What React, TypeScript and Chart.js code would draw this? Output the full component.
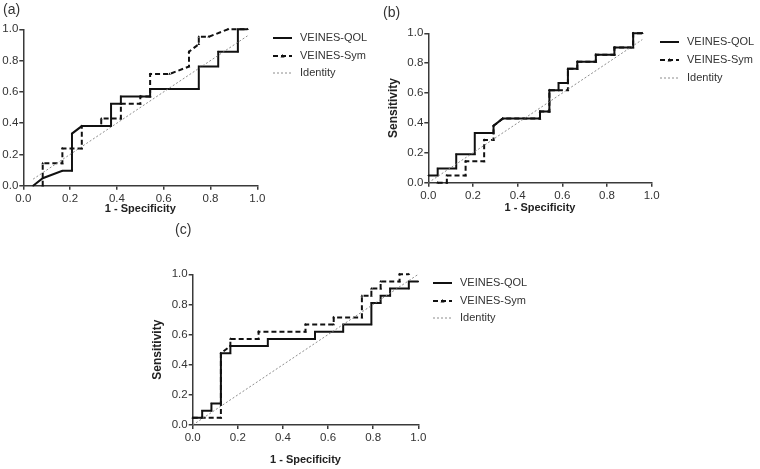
import React, { useEffect, useRef } from "react";
import { Chart, registerables } from "chart.js";
Chart.register(...registerables);

const FONT = '"Liberation Sans", Arial, Helvetica, sans-serif';
Chart.defaults.font.family = FONT;

const tickValues = [0, 0.2, 0.4, 0.6, 0.8, 1.0];
const seriesNames = ["VEINES-QOL", "VEINES-Sym", "Identity"];
const xTitle = "1 - Specificity";
const yTitle = "Sensitivity";

// Panel (a)
const aQolX = [0.042, 0.083, 0.167, 0.208, 0.208, 0.25, 0.375, 0.375, 0.417, 0.417, 0.542, 0.542, 0.75, 0.75, 0.833, 0.833, 0.917, 0.917, 0.958];
const aQolY = [0, 0.048, 0.095, 0.095, 0.333, 0.381, 0.381, 0.524, 0.524, 0.571, 0.571, 0.619, 0.619, 0.762, 0.762, 0.857, 0.857, 1, 1];
const aSymX = [0.083, 0.083, 0.167, 0.167, 0.25, 0.25, 0.333, 0.333, 0.417, 0.417, 0.5, 0.5, 0.542, 0.542, 0.625, 0.708, 0.708, 0.75, 0.75, 0.792, 0.875, 0.958];
const aSymY = [0, 0.143, 0.143, 0.238, 0.238, 0.381, 0.381, 0.429, 0.429, 0.524, 0.524, 0.571, 0.571, 0.714, 0.714, 0.762, 0.857, 0.905, 0.952, 0.952, 1, 1];
const aIdX = [0.042, 0.958];
const aIdY = [0.042, 0.958];

// Panel (b)
const bQolX = [0, 0.042, 0.042, 0.125, 0.125, 0.208, 0.208, 0.292, 0.292, 0.333, 0.5, 0.5, 0.542, 0.542, 0.583, 0.583, 0.625, 0.625, 0.667, 0.667, 0.75, 0.75, 0.833, 0.833, 0.917, 0.917, 0.958];
const bQolY = [0.048, 0.048, 0.095, 0.095, 0.19, 0.19, 0.333, 0.333, 0.381, 0.429, 0.429, 0.476, 0.476, 0.619, 0.619, 0.667, 0.667, 0.762, 0.762, 0.81, 0.81, 0.857, 0.857, 0.905, 0.905, 1, 1];
const bSymX = [0.042, 0.083, 0.083, 0.167, 0.167, 0.25, 0.25, 0.292, 0.292, 0.333, 0.5, 0.5, 0.542, 0.542, 0.625, 0.625, 0.667, 0.667, 0.75, 0.75, 0.833, 0.833, 0.917, 0.917, 0.958];
const bSymY = [0, 0, 0.048, 0.048, 0.143, 0.143, 0.286, 0.286, 0.381, 0.429, 0.429, 0.476, 0.476, 0.619, 0.619, 0.762, 0.762, 0.81, 0.81, 0.857, 0.857, 0.905, 0.905, 1, 1];
const bIdX = [0, 0.958];
const bIdY = [0, 0.958];

// Panel (c)
const cQolX = [0, 0.042, 0.042, 0.083, 0.083, 0.125, 0.125, 0.167, 0.167, 0.333, 0.333, 0.542, 0.542, 0.667, 0.667, 0.792, 0.792, 0.833, 0.833, 0.875, 0.875, 0.958, 0.958, 1];
const cQolY = [0.048, 0.048, 0.095, 0.095, 0.143, 0.143, 0.476, 0.476, 0.524, 0.524, 0.571, 0.571, 0.619, 0.619, 0.667, 0.667, 0.81, 0.81, 0.857, 0.857, 0.905, 0.905, 0.952, 0.952];
const cSymX = [0, 0.125, 0.125, 0.167, 0.167, 0.292, 0.292, 0.5, 0.5, 0.625, 0.625, 0.75, 0.75, 0.792, 0.792, 0.833, 0.833, 0.917, 0.917, 0.958];
const cSymY = [0.048, 0.048, 0.476, 0.524, 0.571, 0.571, 0.619, 0.619, 0.667, 0.667, 0.714, 0.714, 0.857, 0.857, 0.905, 0.905, 0.952, 0.952, 1, 1];
const cIdX = [0, 1];
const cIdY = [0, 1];

type Cfg = {
  label: string;
  left: number; top: number; width: number; height: number;
  padding: { left: number; top: number; right: number; bottom: number };
  yWidth: number; xHeight: number;
  showYTitle: boolean; yTitlePad: number; xTitlePad: number;
  labelPos: [number, number];
  legendX: number; legendYs: number[];
  qol: [number[], number[]]; sym: [number[], number[]]; id: [number[], number[]];
};

const pts = (xs: number[], ys: number[]) => xs.map((x, i) => ({ x, y: ys[i] }));

const AXIS = "#3a3a3a";
const TEXT = "#333";

const styles = [
  { color: "#111", width: 2, dash: [] as number[], r: 0.8, ps: "circle" },
  { color: "#111", width: 2, dash: [5, 3], r: 1.6, ps: "triangle" },
  { color: "#808080", width: 0.9, dash: [2, 2], r: 0, ps: "circle" },
];

function Panel({ cfg }: { cfg: Cfg }) {
  const ref = useRef<HTMLCanvasElement | null>(null);
  useEffect(() => {
    if (!ref.current) return;
    const series = [cfg.qol, cfg.sym, cfg.id];
    const decor = {
      id: "decor",
      afterDraw(chart: any) {
        const c = chart.ctx as CanvasRenderingContext2D;
        c.save();
        c.fillStyle = TEXT;
        c.textBaseline = "middle";
        c.textAlign = "left";
        c.font = `14px ${FONT}`;
        c.fillText(cfg.label, cfg.labelPos[0], cfg.labelPos[1]);
        c.font = `11px ${FONT}`;
        seriesNames.forEach((name, i) => {
          const y = cfg.legendYs[i];
          const st = styles[i];
          c.beginPath();
          c.setLineDash(st.dash);
          c.lineWidth = st.width;
          c.strokeStyle = st.color;
          c.moveTo(cfg.legendX, y);
          c.lineTo(cfg.legendX + 19, y);
          c.stroke();
          c.setLineDash([]);
          if (i === 1) {
            c.fillStyle = "#111";
            c.beginPath();
            c.moveTo(cfg.legendX + 9.5, y - 2);
            c.lineTo(cfg.legendX + 11.5, y + 1.5);
            c.lineTo(cfg.legendX + 7.5, y + 1.5);
            c.closePath();
            c.fill();
          }
          c.fillStyle = TEXT;
          c.fillText(name, cfg.legendX + 27, y);
        });
        c.restore();
      },
    };
    const chart = new Chart(ref.current, {
      type: "scatter",
      data: {
        datasets: series.map((s, i) => ({
          label: seriesNames[i],
          data: pts(s[0], s[1]),
          showLine: true,
          borderColor: styles[i].color,
          borderWidth: styles[i].width,
          borderDash: styles[i].dash,
          pointRadius: styles[i].r,
          pointStyle: styles[i].ps as any,
          pointBackgroundColor: styles[i].color,
          pointBorderWidth: 0,
          tension: 0,
          clip: 8,
          order: 2 - i,
        })),
      },
      options: {
        animation: false,
        responsive: false,
        maintainAspectRatio: false,
        layout: { padding: cfg.padding },
        plugins: { legend: { display: false }, tooltip: { enabled: false } },
        scales: {
          x: {
            type: "linear",
            min: 0,
            max: 1,
            afterFit: (s: any) => { s.height = cfg.xHeight; },
            afterBuildTicks: (s: any) => { s.ticks = tickValues.map((v) => ({ value: v })); },
            ticks: {
              callback: (v: any) => Number(v).toFixed(1),
              font: { size: 11.5 },
              color: TEXT,
              padding: 2,
              maxRotation: 0,
              autoSkip: false,
            },
            grid: { display: true, drawOnChartArea: false, drawTicks: true, tickLength: 4, color: AXIS, lineWidth: 1.5 },
            border: { display: true, color: AXIS, width: 1.5 },
            title: {
              display: true,
              text: xTitle,
              font: { size: 11, weight: "bold" },
              color: "#222",
              padding: { top: 0, bottom: cfg.xTitlePad },
            },
          },
          y: {
            type: "linear",
            min: 0,
            max: 1,
            afterFit: (s: any) => { s.width = cfg.yWidth; },
            afterBuildTicks: (s: any) => { s.ticks = tickValues.map((v) => ({ value: v })); },
            ticks: {
              callback: (v: any) => Number(v).toFixed(1),
              font: { size: 11.5 },
              color: TEXT,
              padding: 1,
              autoSkip: false,
            },
            grid: { display: true, drawOnChartArea: false, drawTicks: true, tickLength: 4, color: AXIS, lineWidth: 1.5 },
            border: { display: true, color: AXIS, width: 1.5 },
            title: {
              display: cfg.showYTitle,
              text: yTitle,
              font: { size: 12, weight: "bold" },
              color: "#222",
              padding: { top: cfg.yTitlePad, bottom: 0 },
            },
          },
        },
      },
      plugins: [decor],
    } as any);
    return () => chart.destroy();
  }, [cfg]);
  return (
    <canvas
      ref={ref}
      width={cfg.width}
      height={cfg.height}
      style={{ position: "absolute", left: cfg.left, top: cfg.top, width: cfg.width, height: cfg.height }}
    />
  );
}

const panels: Cfg[] = [
  {
    label: "(a)", left: 0, top: 0, width: 370, height: 218,
    padding: { left: 0, top: 29.3, right: 112.7, bottom: 0 },
    yWidth: 23.3, xHeight: 32.3, showYTitle: false, yTitlePad: 0, xTitlePad: 2.4,
    labelPos: [3, 10], legendX: 273, legendYs: [38, 56, 73],
    qol: [aQolX, aQolY], sym: [aSymX, aSymY], id: [aIdX, aIdY],
  },
  {
    label: "(b)", left: 370, top: 0, width: 390, height: 218,
    padding: { left: 0, top: 33.3, right: 108.3, bottom: 0 },
    yWidth: 58.3, xHeight: 35.3, showYTitle: true, yTitlePad: 16.1, xTitlePad: 3.4,
    labelPos: [13, 13], legendX: 290, legendYs: [42, 60, 78],
    qol: [bQolX, bQolY], sym: [bSymX, bSymY], id: [bIdX, bIdY],
  },
  {
    label: "(c)", left: 140, top: 218, width: 400, height: 251,
    padding: { left: 0, top: 56.3, right: 121.7, bottom: 0 },
    yWidth: 52.7, xHeight: 44, showYTitle: true, yTitlePad: 10.8, xTitlePad: 2.4,
    labelPos: [35, 12], legendX: 293, legendYs: [65, 83, 100],
    qol: [cQolX, cQolY], sym: [cSymX, cSymY], id: [cIdX, cIdY],
  },
];

export default function App() {
  return (
    <div style={{ position: "absolute", left: 0, top: 0, width: 760, height: 469, background: "#fff", overflow: "hidden" }}>
      {panels.map((p) => (
        <Panel key={p.label} cfg={p} />
      ))}
    </div>
  );
}
